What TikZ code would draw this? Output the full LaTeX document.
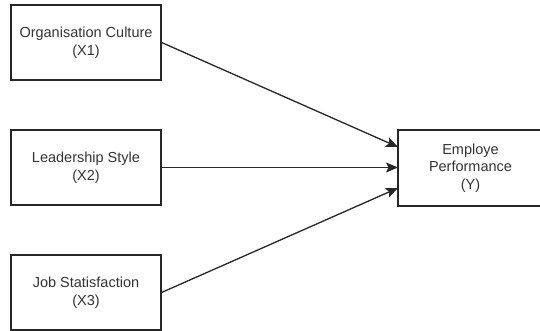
\documentclass[tikz,border=0pt]{standalone}
\usepackage{fontspec}
\setmainfont{Liberation Sans}
\usetikzlibrary{arrows.meta}
\begin{document}
\begin{tikzpicture}[x=1pt,y=-1pt,
  box/.style={draw=black!85,line width=1.2pt,minimum width=150pt,minimum height=75pt,inner sep=0pt,align=center,font=\fontsize{14.5}{17.5}\selectfont,text=black!80},
  conn/.style={draw=black!85,line width=1.3pt,-{Stealth[length=12pt,width=10pt,inset=2.5pt]}}]
\useasboundingbox (0,0) rectangle (540,331);
\node[box] (x1) at (86,42.5) {Organisation Culture\\(X1)};
\node[box] (x2) at (86,167.5) {Leadership Style\\(X2)};
\node[box] (x3) at (86,292.5) {Job Statisfaction\\(X3)};
\node[box,minimum width=145pt,minimum height=76pt] (y) at (470.5,168) {Employe\\Performance\\(Y)};
\coordinate (e1) at (398,147);
\coordinate (e2) at (398,167.5);
\coordinate (e3) at (398,188);
\draw[conn] (x1.east) -- (e1);
\draw[conn] (x2.east) -- (e2);
\draw[conn] (x3.east) -- (e3);
\end{tikzpicture}
\end{document}
